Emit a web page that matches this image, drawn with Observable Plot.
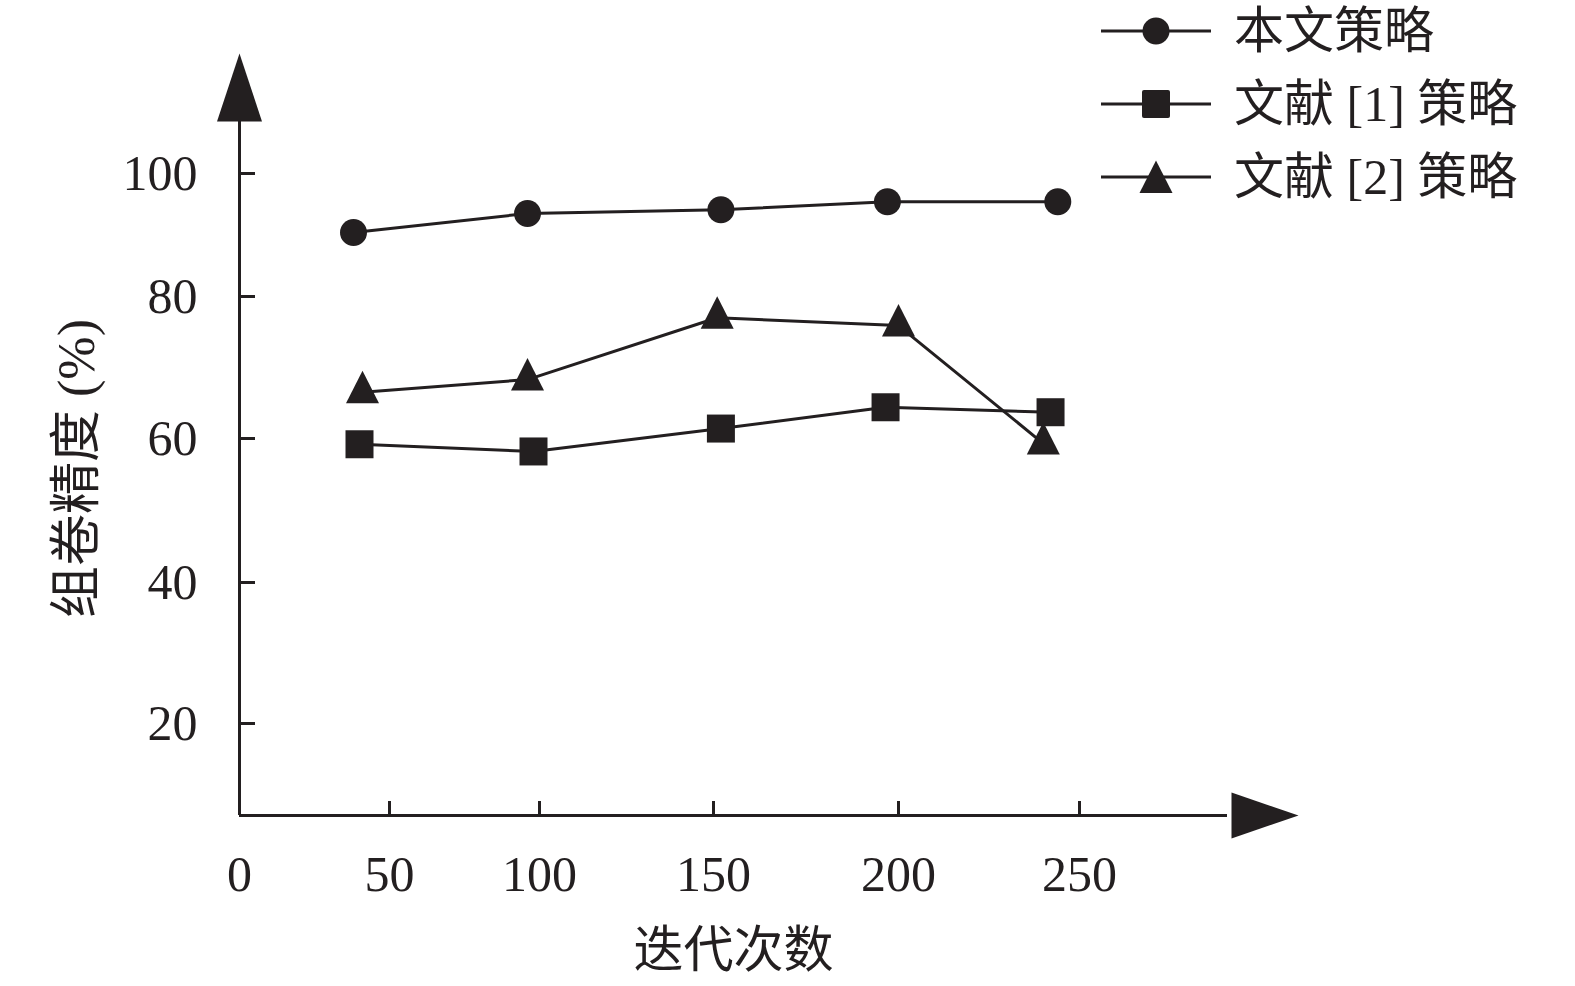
<!DOCTYPE html>
<html><head><meta charset="utf-8">
<script src="https://cdn.jsdelivr.net/npm/d3@7"></script>
<script src="https://cdn.jsdelivr.net/npm/@observablehq/plot@0.6"></script>
<style>
body{margin:0;background:#fff;}
#wrap{position:relative;width:1575px;height:986px;font-family:'Liberation Serif','Noto Sans CJK SC',serif;color:#231f20;}
#legend{position:absolute;left:1101px;top:-6px;}
.row{display:flex;align-items:center;height:73px;font-size:50px;white-space:pre;line-height:1;}
.row svg{margin-right:23px;flex:none;}
</style></head><body><div id="wrap"><div id="legend"></div></div>
<script>
// ---- data ----
const seriesNames = ["本文策略", "文献 [1] 策略", "文献 [2] 策略"];
const iterOurs = [38, 96, 152, 197, 244];
const accOurs  = [90.4, 93.5, 94.1, 95.4, 95.4];
const iterRef1 = [40, 98, 152, 196.5, 242];
const accRef1  = [59.2, 58.2, 61.4, 64.4, 63.7];
const iterRef2 = [41, 96, 151, 200, 240];
const accRef2  = [66.5, 68.3, 77.0, 75.9, 59.3];
const xTicks = [0, 50, 100, 150, 200, 250];
const yTicks = [20, 40, 60, 80, 100];
const xLabel = "迭代次数";
const yLabel = "组卷精度 (%)";

const ink = "#231f20";
const font = "'Liberation Serif','Noto Sans CJK SC',serif";

const toRows = (xs, ys, s) => xs.map((x, i) => ({iter: x, acc: ys[i], series: s}));
const ours = toRows(iterOurs, accOurs, seriesNames[0]);
const ref1 = toRows(iterRef1, accRef1, seriesNames[1]);
const ref2 = toRows(iterRef2, accRef2, seriesNames[2]);

// custom marker shapes
const triSym = {draw(c){ c.moveTo(0,-21.5); c.lineTo(16.5,11); c.lineTo(-16.5,11); c.closePath(); }};
const sqSym  = {draw(c){ c.moveTo(-14,-14); c.lineTo(14,-14); c.lineTo(14,14); c.lineTo(-14,14); c.closePath(); }};
const arrowUp = {draw(c){ c.moveTo(-22.5,0); c.lineTo(22.5,0); c.lineTo(0,-68); c.closePath(); }};
const arrowRight = {draw(c){ c.moveTo(4,-23); c.lineTo(4,23); c.lineTo(71,0); c.closePath(); }};

const chart = Plot.plot({
  width: 1575,
  height: 986,
  marginLeft: 239,
  marginRight: 348,
  marginTop: 121,
  marginBottom: 171,
  style: {fontFamily: font, color: ink, background: "transparent", overflow: "visible"},
  x: {type: "linear", domain: [0, 50, 100, 150, 200, 250], range: [239, 389, 539, 713, 898, 1079]},
  y: {type: "linear", domain: [7, 20, 40, 60, 80, 100], range: [815, 723, 582, 438, 296, 173]},
  marks: [
    Plot.ruleX([0], {stroke: ink, strokeWidth: 3}),
    Plot.ruleY([7], {stroke: ink, strokeWidth: 3}),
    Plot.dot([0], {frameAnchor: "top-left", symbol: arrowUp, fill: ink, stroke: "none"}),
    Plot.dot([0], {frameAnchor: "bottom-right", symbol: arrowRight, fill: ink, stroke: "none"}),
    Plot.axisY({ticks: yTicks, tickSize: 16, dx: 16, tickPadding: 42, fontSize: 50, strokeWidth: 3, label: null, tickFormat: d => String(d)}),
    Plot.axisX({ticks: xTicks, tickSize: 14, dy: -14, tickPadding: 40, fontSize: 50, strokeWidth: 3, label: null, tickFormat: d => String(d)}),
    Plot.text([xLabel], {frameAnchor: "bottom", textAnchor: "middle", lineAnchor: "middle", dy: 135, fontSize: 50, fill: ink, fontFamily: font}),
    Plot.text([yLabel], {frameAnchor: "left", textAnchor: "middle", lineAnchor: "middle", dx: -162, rotate: -90, fontSize: 52, fill: ink, fontFamily: font}),
    Plot.line(ours, {x: "iter", y: "acc", stroke: ink, strokeWidth: 3}),
    Plot.line(ref1, {x: "iter", y: "acc", stroke: ink, strokeWidth: 3}),
    Plot.line(ref2, {x: "iter", y: "acc", stroke: ink, strokeWidth: 3}),
    Plot.dot(ours, {x: "iter", y: "acc", r: 13.5, fill: ink, stroke: "none"}),
    Plot.dot(ref1, {x: "iter", y: "acc", symbol: sqSym, fill: ink, stroke: "none"}),
    Plot.dot(ref2, {x: "iter", y: "acc", symbol: triSym, fill: ink, stroke: "none"})
  ]
});
document.getElementById("wrap").prepend(chart);

// legend
const markerSvg = [
  `<circle cx="55" cy="20" r="13.5" fill="${ink}"/>`,
  `<rect x="41" y="6" width="28" height="28" rx="2" fill="${ink}"/>`,
  `<path d="M55,3.5L71.5,36L38.5,36Z" fill="${ink}"/>`
];
const legend = document.getElementById("legend");
seriesNames.forEach((name, i) => {
  const row = document.createElement("div");
  row.className = "row";
  row.innerHTML = `<svg width="110" height="40"><line x1="0" x2="110" y1="20" y2="20" stroke="${ink}" stroke-width="3"/>${markerSvg[i]}</svg><span>${name}</span>`;
  legend.appendChild(row);
});
</script>
</body></html>
